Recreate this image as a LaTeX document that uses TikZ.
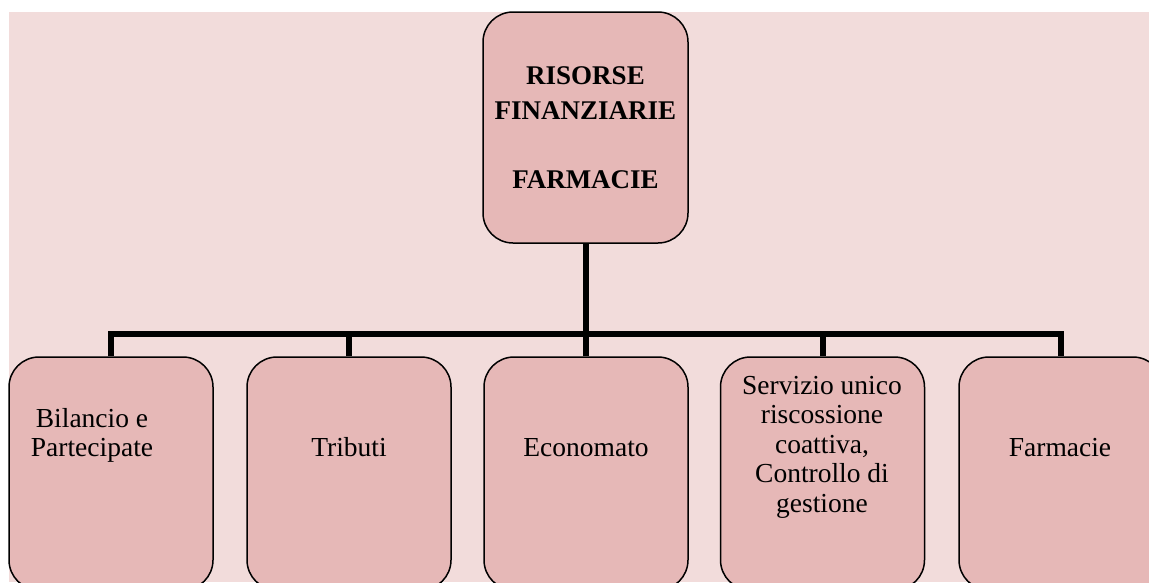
\documentclass[tikz,border=0pt]{standalone}
\usepackage{fontspec}
\setmainfont{Liberation Serif}
\definecolor{bgpink}{HTML}{F2DCDB}
\definecolor{boxpink}{HTML}{E6B8B7}
\tikzset{
  unitbox/.style={draw=black,line width=1.5pt,fill=boxpink,rounded corners=30pt,
    minimum width=204pt,minimum height=233pt,inner sep=0pt},
  conn/.style={line width=6pt,line join=miter},
  lbl/.style={font=\fontsize{27.5}{29.5}\selectfont,align=center,inner sep=0pt}
}
\begin{document}
\begin{tikzpicture}[x=1pt,y=-1pt]
\useasboundingbox (0,0) rectangle (1149,582);
% Background
\fill[bgpink] (9,12) rectangle (1149,582);
% Head box
\node[unitbox,minimum width=205pt,minimum height=231pt,align=center,
  font=\bfseries\fontsize{27}{34.5}\selectfont] (head) at (585.5,127.5)
  {RISORSE\\FINANZIARIE\\[34.5pt]FARMACIE};
% Office boxes
\foreach \n/\x in {bil/111,trib/349,econ/586,serv/822.5,farm/1061}
  \node[unitbox] (\n) at (\x,473.5) {};
% Tree lines
\coordinate (bar) at (585.5,334);
\draw[conn] (head.south) -- (bar);
\draw[conn] (bil.north) |- (bar) -| (farm.north);
\foreach \n in {trib,econ,serv}
  \draw[conn] (\n.north) -- (\n.north |- bar);
% Office labels
\node[lbl,anchor=north] (bilt) at (92,408) {Bilancio e\\Partecipate};
\node[lbl,anchor=base] (tribt) at (349,456) {Tributi};
\node[lbl,anchor=base] (econt) at (586,456) {Economato};
\node[lbl,anchor=north] (servt) at (822,376) {Servizio unico\\riscossione\\coattiva,\\Controllo di\\gestione};
\node[lbl,anchor=base] (farmt) at (1060,456) {Farmacie};
\end{tikzpicture}
\end{document}
